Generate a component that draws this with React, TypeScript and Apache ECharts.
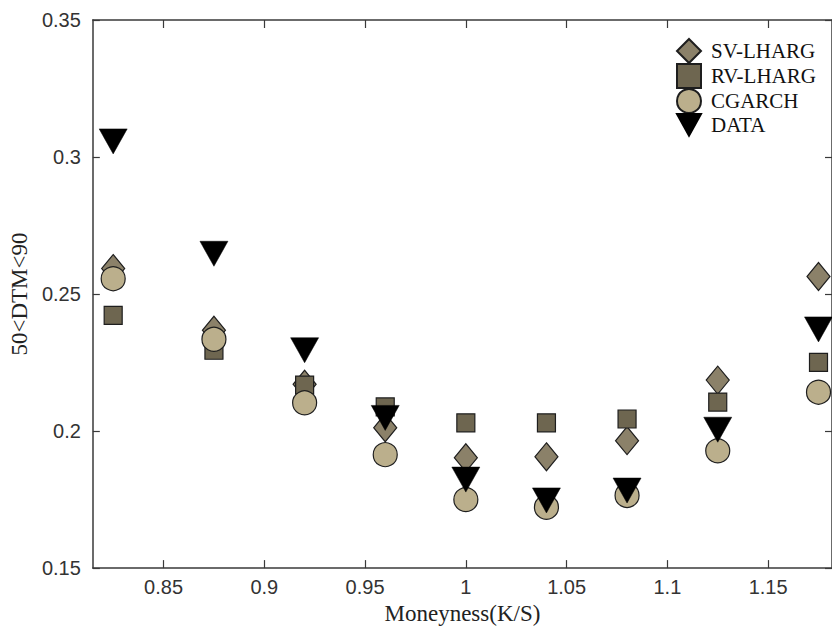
import React, { useEffect, useRef } from "react";
import * as echarts from "echarts";

const moneyness = [0.825, 0.875, 0.92, 0.96, 1.0, 1.04, 1.08, 1.125, 1.175];
const svLharg = [0.2593, 0.2368, 0.2171, 0.2012, 0.1903, 0.1906, 0.1965, 0.2186, 0.2564];
const rvLharg = [0.2422, 0.2295, 0.2168, 0.2088, 0.203, 0.203, 0.2044, 0.2106, 0.2251];
const cgarch = [0.2556, 0.2335, 0.2103, 0.1914, 0.175, 0.1722, 0.1765, 0.1928, 0.2142];
const dataVals = [0.3057, 0.2647, 0.2295, 0.2048, 0.1823, 0.1747, 0.1783, 0.2005, 0.2371];
const xTicks = [0.85, 0.9, 0.95, 1.0, 1.05, 1.1, 1.15];

const TRI = "path://M0,0L2,0L1,1.8Z";
const EDGE = "#1e1e1e";
const SERIF = "'Liberation Serif', 'DejaVu Serif', serif";
const SANS = "'Liberation Sans', Arial, sans-serif";

const pairs = (ys: number[]) => moneyness.map((x, i) => [x, ys[i]]);

export default function App() {
  const ref = useRef<HTMLDivElement>(null);
  useEffect(() => {
    if (!ref.current) return;
    const chart = echarts.init(ref.current, null, { renderer: "svg" });
    const axisLine = { show: true, lineStyle: { color: "#3a3a3a", width: 1.5 } };
    const tickStyle = { color: "#3a3a3a", width: 1.2 };
    chart.setOption({
      animation: false,
      backgroundColor: "#ffffff",
      grid: { left: 91, right: -1, top: 20, bottom: 59, containLabel: false },
      legend: {
        orient: "vertical",
        left: 671,
        top: 33,
        itemWidth: 24,
        itemHeight: 24,
        itemGap: -1,
        textStyle: {
          fontFamily: SERIF,
          fontSize: 21,
          lineHeight: 22,
          color: "#111",
          padding: [0, 0, 0, 5],
        },
        data: [
          { name: "SV-LHARG", icon: "diamond" },
          { name: "RV-LHARG", icon: "rect" },
          { name: "CGARCH", icon: "circle" },
          { name: "DATA", icon: TRI },
        ],
      },
      xAxis: [
        {
          type: "value",
          min: 0.8149,
          max: 1.1817,
          position: "bottom",
          axisLine,
          splitLine: { show: false },
          axisTick: { show: true, inside: true, length: 8, customValues: xTicks, lineStyle: tickStyle },
          axisLabel: { customValues: xTicks, fontFamily: SANS, fontSize: 20, color: "#333", margin: 9 },
          name: "Moneyness(K/S)",
          nameLocation: "middle",
          nameGap: 33,
          nameTextStyle: { fontFamily: SERIF, fontSize: 23, color: "#222" },
        },
        {
          type: "value",
          min: 0.8149,
          max: 1.1817,
          position: "top",
          axisLine,
          splitLine: { show: false },
          axisTick: { show: true, inside: true, length: 8, customValues: xTicks, lineStyle: tickStyle },
          axisLabel: { show: false },
        },
      ],
      yAxis: [
        {
          type: "value",
          min: 0.15,
          max: 0.35,
          interval: 0.05,
          position: "left",
          axisLine,
          splitLine: { show: false },
          axisTick: { show: true, inside: true, length: 7, lineStyle: tickStyle },
          axisLabel: { fontFamily: SANS, fontSize: 20, color: "#333", margin: 12 },
          name: "50<DTM<90",
          nameLocation: "middle",
          nameGap: 58,
          nameTextStyle: { fontFamily: SERIF, fontSize: 23, color: "#222" },
        },
        {
          type: "value",
          min: 0.15,
          max: 0.35,
          interval: 0.05,
          position: "right",
          axisLine,
          splitLine: { show: false },
          axisTick: { show: true, inside: true, length: 7, lineStyle: tickStyle },
          axisLabel: { show: false },
        },
      ],
      series: [
        {
          name: "SV-LHARG",
          type: "scatter",
          data: pairs(svLharg),
          symbol: "diamond",
          symbolSize: [23, 28],
          itemStyle: { color: "#8b8169", borderColor: EDGE, borderWidth: 1.2, opacity: 1 },
          z: 2,
        },
        {
          name: "RV-LHARG",
          type: "scatter",
          data: pairs(rvLharg),
          symbol: "rect",
          symbolSize: 18,
          itemStyle: { color: "#6e6650", borderColor: EDGE, borderWidth: 1.2, opacity: 1 },
          z: 3,
        },
        {
          name: "CGARCH",
          type: "scatter",
          data: pairs(cgarch),
          symbol: "circle",
          symbolSize: 24,
          itemStyle: { color: "#bbaf8c", borderColor: EDGE, borderWidth: 1.2, opacity: 1 },
          z: 4,
        },
        {
          name: "DATA",
          type: "scatter",
          data: pairs(dataVals),
          symbol: TRI,
          symbolSize: [28, 25],
          itemStyle: { color: "#000000", borderColor: "#000000", borderWidth: 0.5, opacity: 1 },
          z: 5,
        },
      ],
    });
    return () => chart.dispose();
  }, []);
  return (
    <div
      ref={ref}
      style={{ position: "fixed", left: 0, top: 0, width: 832, height: 630, background: "#fff" }}
    />
  );
}
